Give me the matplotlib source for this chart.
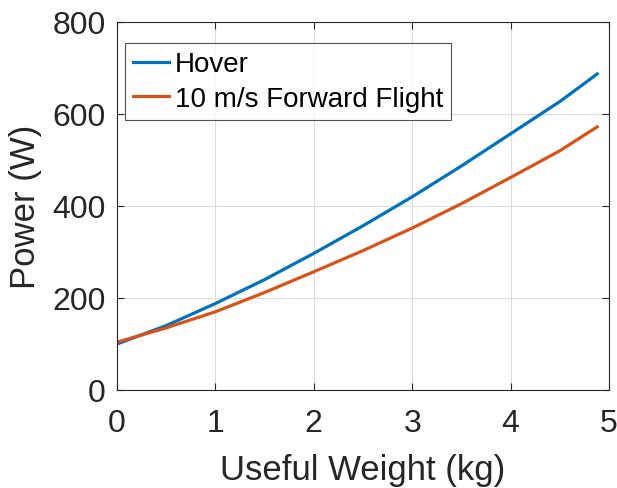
import matplotlib
matplotlib.use("Agg")
import matplotlib.pyplot as plt

weight = [0, 0.5, 1, 1.5, 2, 2.5, 3, 3.5, 4, 4.5, 4.88]
hover = [100, 140, 188, 240, 297, 357, 420, 487, 557, 627, 687]
forward = [104, 135, 170, 212, 257, 303, 352, 405, 462, 520, 572]

plt.rcParams['font.family'] = ['Liberation Sans', 'DejaVu Sans']

fig = plt.figure(figsize=(6.17, 4.89), dpi=100)
ax = fig.add_axes([117/617, 1 - 391/489, (609-117)/617, (391-23)/489])

ax.plot(weight, hover, color='#0072BD', lw=2.3, label='Hover')
ax.plot(weight, forward, color='#D95319', lw=2.3, label='10 m/s Forward Flight')

ax.set_xlim(0, 5)
ax.set_ylim(0, 800)
ax.set_xticks(range(6))
ax.set_yticks(range(0, 801, 200))
ax.grid(True, color='#dcdcdc', lw=0.8)
ax.tick_params(direction='in', top=True, right=True, labelsize=23, colors='#262626', length=5, width=0.8)
ax.tick_params(axis='x', pad=13)
ax.tick_params(axis='y', pad=8)
for s in ax.spines.values():
    s.set_color('#262626')
    s.set_linewidth(0.8)
ax.set_xlabel('Useful Weight (kg)', fontsize=25, color='#262626')
ax.set_ylabel('Power (W)', fontsize=25, color='#262626')
ax.xaxis.set_label_coords(0.5, -0.17)
ax.yaxis.set_label_coords(-0.152, 0.5)

leg = ax.legend(loc='upper left', bbox_to_anchor=(0.016, 0.943), fontsize=20, frameon=True, fancybox=False,
                edgecolor='#262626', handlelength=1.3, handletextpad=0.2, borderpad=0.3, labelspacing=0.3,
                borderaxespad=0)
leg.get_frame().set_linewidth(0.8)

fig.savefig('out.png', dpi=100)
